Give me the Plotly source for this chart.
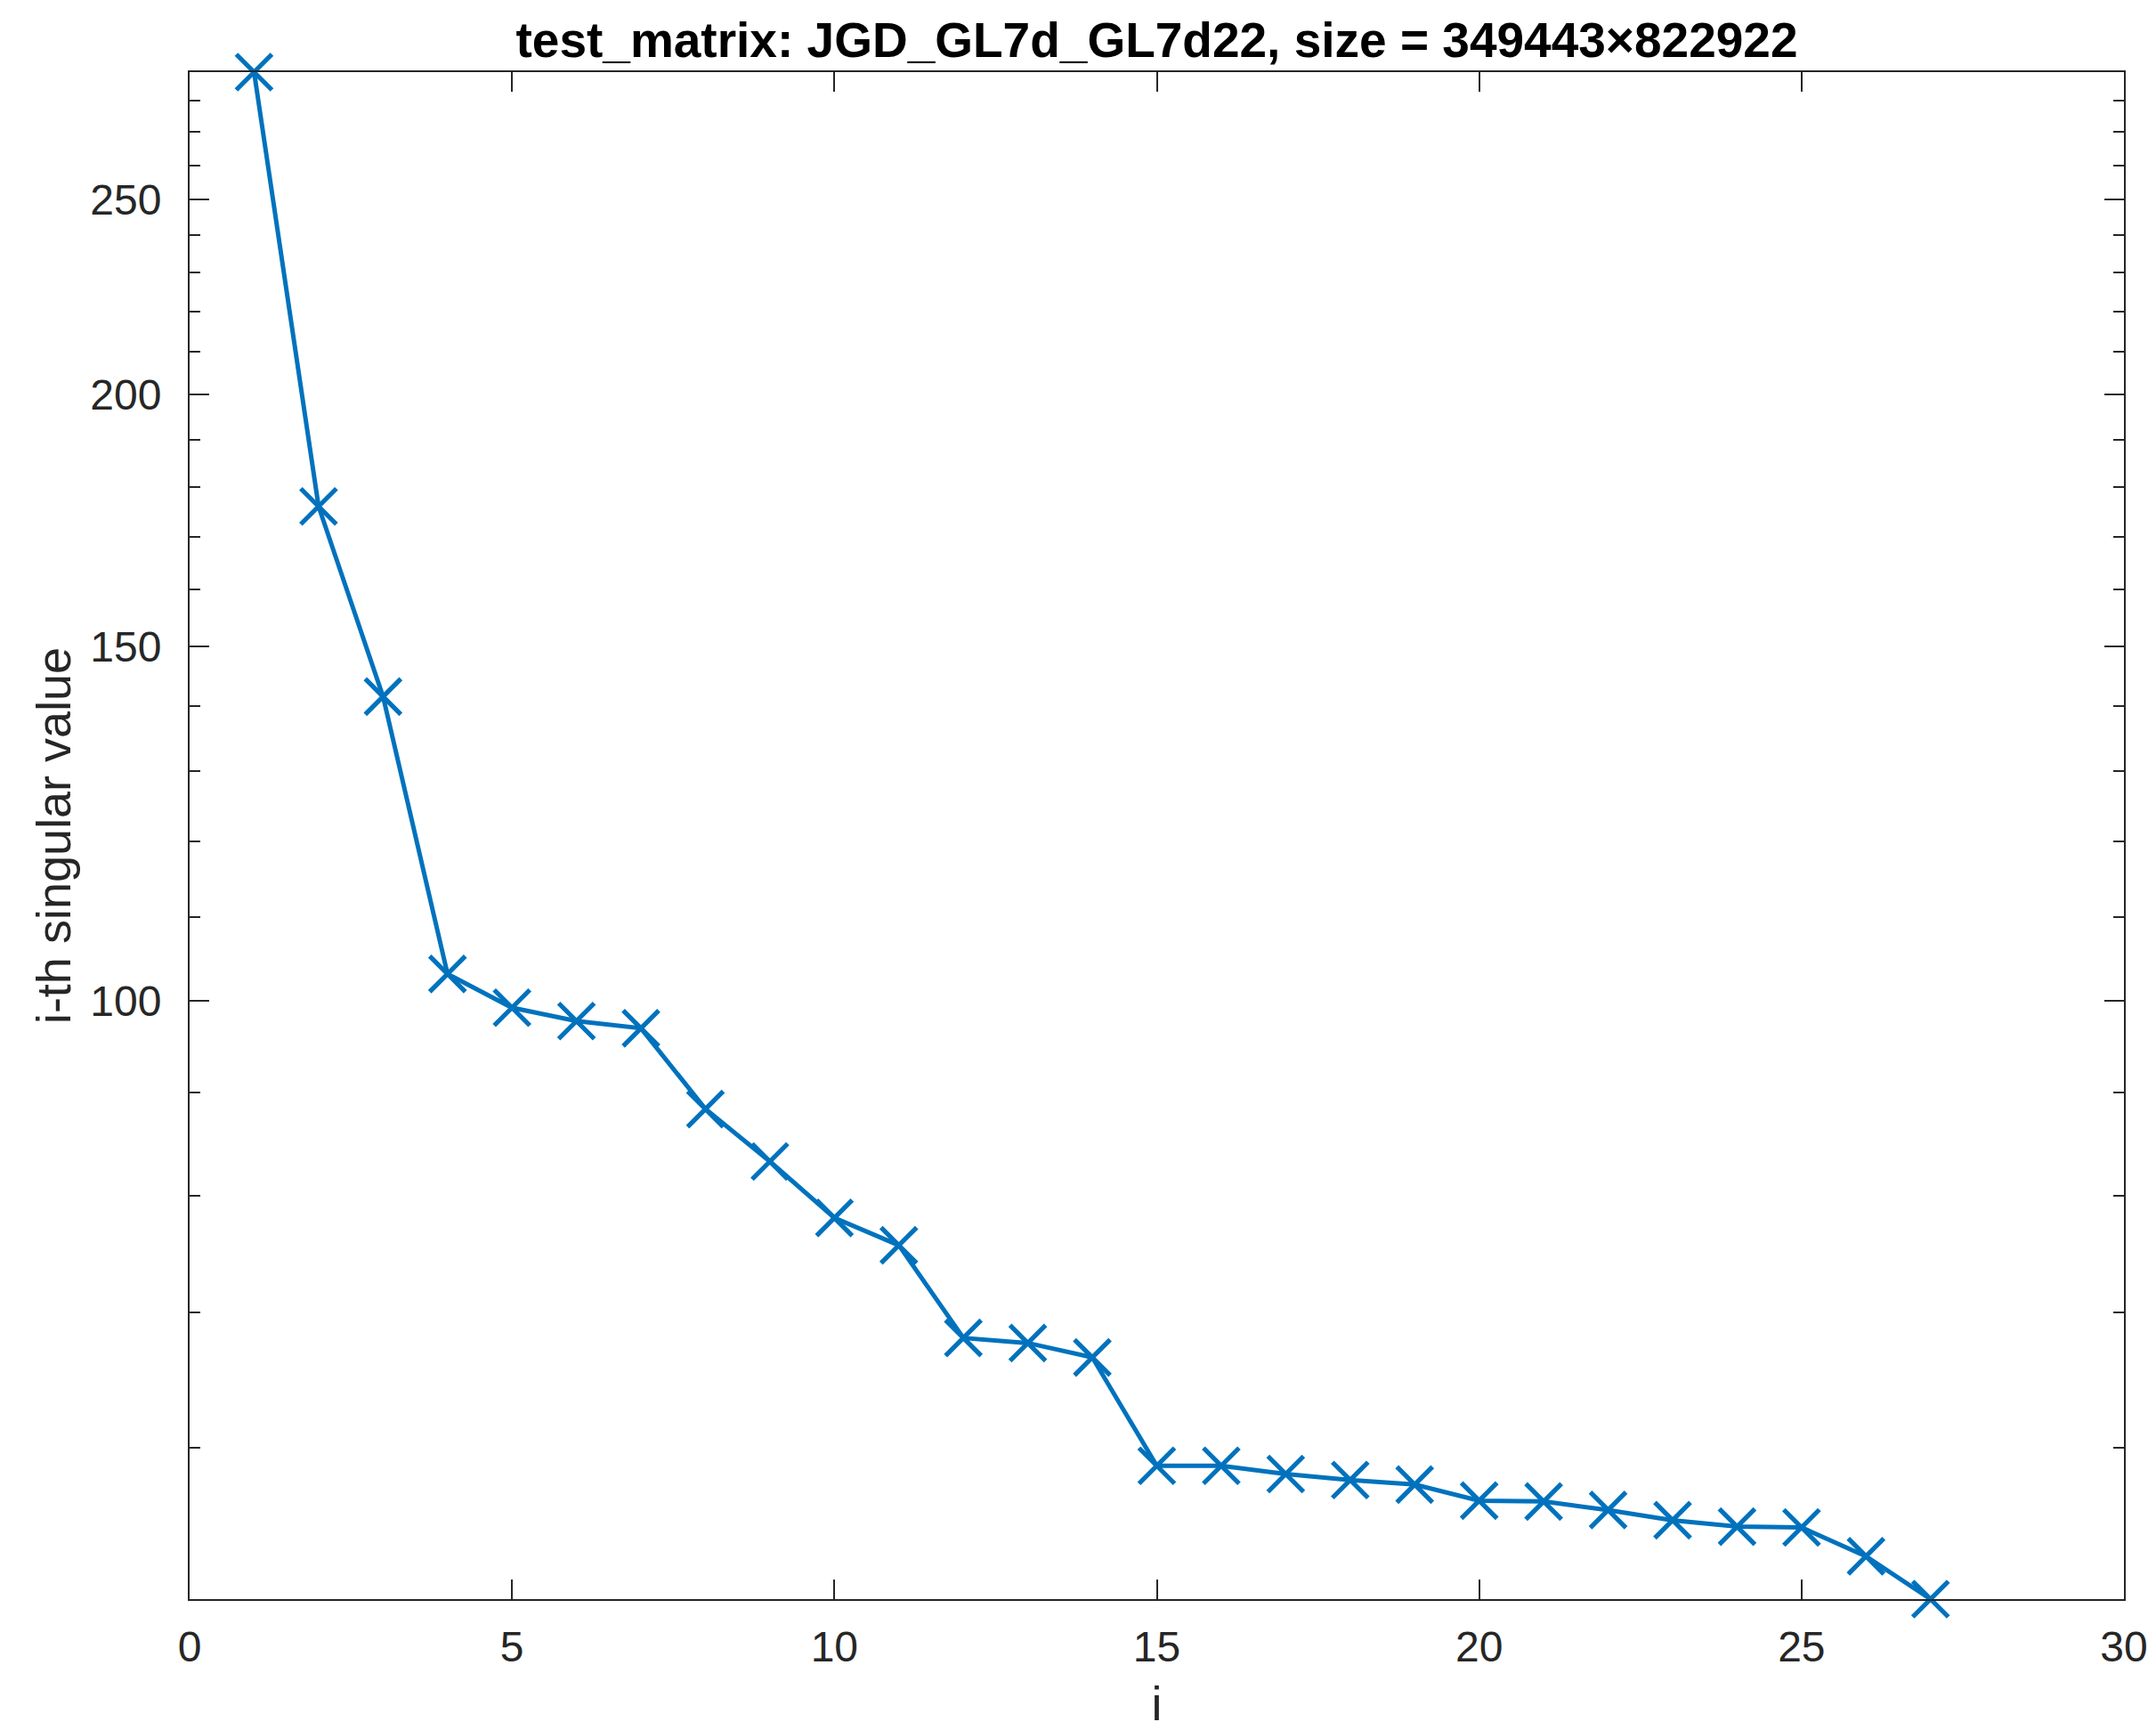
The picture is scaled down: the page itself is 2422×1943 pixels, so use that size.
import math
import plotly.graph_objects as go

# ---- data ----
idx = list(range(1, 28))
sing_vals = [289.2, 176.0, 141.6, 103.1, 99.2, 97.7, 96.9, 88.35, 83.2, 78.0,
             75.6, 68.0, 67.6, 66.5, 58.75, 58.75, 58.2, 57.8, 57.5, 56.45,
             56.4, 55.85, 55.2, 54.8, 54.75, 52.97, 50.44]
y_major_ticks = [100, 150, 200, 250]
y_minor_ticks = [60, 70, 80, 90, 110, 120, 130, 140, 160, 170, 180, 190,
                 210, 220, 230, 240, 260, 270, 280]
x_range = [0, 30]
title_text = "test_matrix: JGD_GL7d_GL7d22, size = 349443\u00d7822922"
x_label = "i"
y_label = "i-th singular value"

BLUE = "#0072BD"
AX = "#262626"
FONT = "Liberation Sans, Arial, Helvetica, sans-serif"
W, H = 2422, 1943

fig = go.Figure()
fig.add_trace(go.Scatter(
    x=idx, y=sing_vals, mode="lines+markers",
    line=dict(color=BLUE, width=5),
    marker=dict(symbol="x-thin-open", size=40, color=BLUE,
                line=dict(color=BLUE, width=5.2)),
    cliponaxis=False, showlegend=False,
))

fig.update_layout(
    width=W, height=H,
    margin=dict(l=213, r=36, t=81, b=147, autoexpand=False),
    paper_bgcolor="white", plot_bgcolor="white",
    font=dict(family=FONT, size=48, color=AX),
    title=dict(text="<b>" + title_text + "</b>", x=0.5, xanchor="center",
               xref="paper", yref="container", y=1 - 45 / H, yanchor="middle",
               font=dict(family=FONT, size=55, color="black")),
)

fig.update_xaxes(
    automargin=False,
    range=x_range, tickmode="linear", tick0=0, dtick=5,
    showline=True, linecolor=AX, linewidth=2, mirror="ticks",
    ticks="inside", ticklen=22, tickwidth=2, tickcolor=AX,
    showgrid=False, zeroline=False,
    tickfont=dict(family=FONT, size=48, color=AX),
    ticklabelstandoff=10,
    title=dict(text=x_label, standoff=36, font=dict(family=FONT, size=54, color=AX)),
)

fig.update_yaxes(
    automargin=False,
    type="log",
    range=[math.log10(min(sing_vals)), math.log10(max(sing_vals))],
    tickmode="array", tickvals=y_major_ticks, ticktext=[str(v) for v in y_major_ticks],
    showline=True, linecolor=AX, linewidth=2, mirror="ticks",
    ticks="inside", ticklen=22, tickwidth=2, tickcolor=AX,
    minor=dict(tickmode="array", tickvals=y_minor_ticks, ticks="inside",
               ticklen=12, tickwidth=2, tickcolor=AX, showgrid=False),
    showgrid=False, zeroline=False,
    tickfont=dict(family=FONT, size=48, color=AX),
    ticklabelstandoff=20,
    title=dict(text=y_label, standoff=4, font=dict(family=FONT, size=54, color=AX)),
)

fig.write_html("out.html")
